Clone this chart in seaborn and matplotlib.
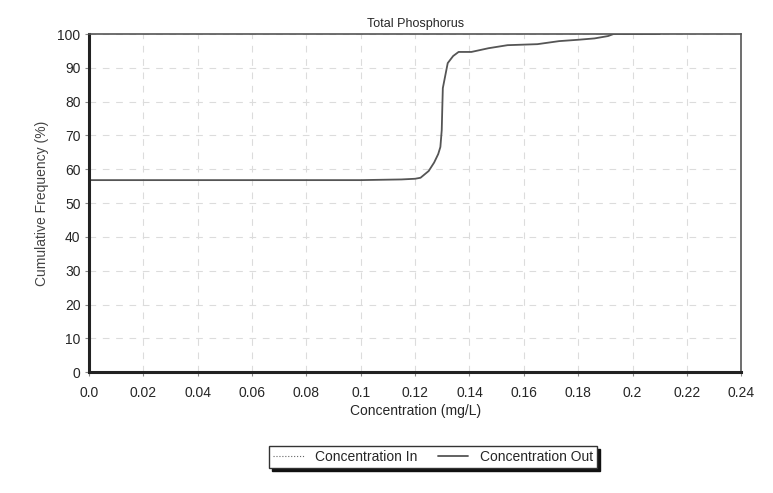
import numpy as np
import pandas as pd
import matplotlib
matplotlib.use("Agg")
import matplotlib.pyplot as plt
import seaborn as sns

# Cumulative frequency curve for outflow concentration
conc_out = [0.0, 0.100, 0.115, 0.120, 0.122, 0.125, 0.127, 0.1285, 0.1293, 0.1298,
            0.1300, 0.1302, 0.1310, 0.132, 0.134, 0.136, 0.1407, 0.147, 0.154,
            0.165, 0.173, 0.180, 0.186, 0.191, 0.193, 0.210]
freq_out = [56.8, 56.8, 57.0, 57.2, 57.5, 59.5, 62.0, 64.5, 66.6, 71.6,
            78.0, 84.0, 87.3, 91.4, 93.5, 94.7, 94.7, 95.8, 96.7,
            97.0, 97.9, 98.3, 98.7, 99.4, 100.0, 100.0]

# inflow series has no visible points on this chart
conc_in = []
freq_in = []

x_ticks = [0.0, 0.02, 0.04, 0.06, 0.08, 0.1, 0.12, 0.14, 0.16, 0.18, 0.2, 0.22, 0.24]
x_labels = ["0.0", "0.02", "0.04", "0.06", "0.08", "0.1", "0.12", "0.14", "0.16",
            "0.18", "0.2", "0.22", "0.24"]
y_ticks = [0, 10, 20, 30, 40, 50, 60, 70, 80, 90, 100]

sns.set_style("white")
plt.rcParams['font.family'] = ['Liberation Sans', 'DejaVu Sans']

fig = plt.figure(figsize=(7.73, 4.93), dpi=100)
ax = fig.add_axes([0.115, 0.245, 0.844, 0.686])

df_out = pd.DataFrame({'conc': conc_out, 'freq': freq_out})
ax.plot(conc_in, freq_in, color='#666666', lw=0.8, ls=':', label='Concentration In')
sns.lineplot(data=df_out, x='conc', y='freq', ax=ax, color='#555555', lw=1.3,
             estimator=None, sort=False, label='Concentration Out')

ax.set_xlim(0, 0.24)
ax.set_ylim(0, 100)
ax.set_xticks(x_ticks)
ax.set_xticklabels(x_labels)
ax.set_yticks(y_ticks)
ax.grid(True, color='#dcdcdc', ls=(0, (6, 6)), lw=0.8)
ax.tick_params(axis='both', labelsize=10, length=3, direction='out', color='#888888',
               pad=3, left=True, bottom=True)
ax.tick_params(axis='x', pad=7)

for side in ['left', 'bottom']:
    ax.spines[side].set_linewidth(2.2)
    ax.spines[side].set_color('#222222')
for side in ['top', 'right']:
    ax.spines[side].set_linewidth(1.2)
    ax.spines[side].set_color('#555555')

ax.set_title('Total Phosphorus', fontsize=9, pad=5)
ax.set_xlabel('Concentration (mg/L)', fontsize=10, labelpad=3)
ax.set_ylabel('Cumulative Frequency (%)', fontsize=10, color='#444444', labelpad=6)

leg = fig.legend(*ax.get_legend_handles_labels(), loc='center', ncol=2,
                 bbox_to_anchor=(0.56, 0.073), frameon=True, fancybox=False,
                 shadow={'color': '#111111', 'alpha': 1.0}, fontsize=10,
                 handlelength=2.2, borderpad=0.3, columnspacing=1.5,
                 edgecolor='#333333')
ax.get_legend().remove()

fig.savefig('out.png', dpi=100)
